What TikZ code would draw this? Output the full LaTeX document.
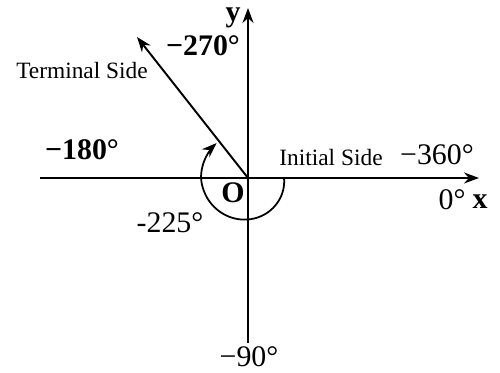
\documentclass[tikz,border=0pt]{standalone}
\usepackage{fontspec}
\setmainfont{Liberation Serif}
\usetikzlibrary{arrows.meta, calc}

\tikzset{
  bigbold/.style={font=\fontsize{17}{19}\selectfont\bfseries},
  bigreg/.style={font=\fontsize{17}{19}\selectfont},
  sidelabel/.style={font=\fontsize{13.3}{15}\selectfont},
}

\begin{document}
\begin{tikzpicture}[>={Stealth[length=3mm, width=2.2mm]}, line width=1.1pt]

% Frame (fixes the page size)
\useasboundingbox (0,0) rectangle (10,7.46);

% Key points
\coordinate (O) at (4.96,3.90);
\coordinate (xstart) at (0.80,3.90);
\coordinate (xend) at (9.58,3.90);
\coordinate (ytop) at (4.96,7.30);
\coordinate (ybot) at (4.96,0.60);
\coordinate (term) at (2.74,6.72);

% Axes
\draw[->] (xstart) -- (xend);
\draw[->] (ybot) -- (ytop);

% Terminal side
\draw[->] (O) -- (term);

% Rotation arc, clockwise from the initial side (radius grows a little)
\draw[->, line width=1pt, shift={(O)}]
  plot[domain=0:-228, samples=60, smooth]
  ({cos(\x)*(0.72+0.22*min(-\x,180)/180)}, {sin(\x)*(0.72+0.22*min(-\x,180)/180)});

% Axis labels
\node[bigbold] (ylab) at (4.66,7.10) {y};
\node[bigbold] (xlab) at (9.60,3.42) {x};
\node[bigbold] (olab) at (4.66,3.60) {O};

% Angle labels
\node[bigbold] (a270) at (4.06,6.54) {−270°};
\node[bigbold] (a180) at (1.64,4.46) {−180°};
\node[bigreg] (a360) at (8.74,4.36) {−360°};
\node[bigreg] (a0) at (9.04,3.46) {0°};
\node[bigreg] (a225) at (3.40,3.00) {-225°};
\node[bigreg, inner sep=1pt] (a90) at (4.98,0.32) {−90°};

% Side labels
\node[sidelabel] (termlab) at (1.64,6.04) {Terminal Side};
\node[sidelabel] (initlab) at (6.62,4.30) {Initial Side};

\end{tikzpicture}
\end{document}
